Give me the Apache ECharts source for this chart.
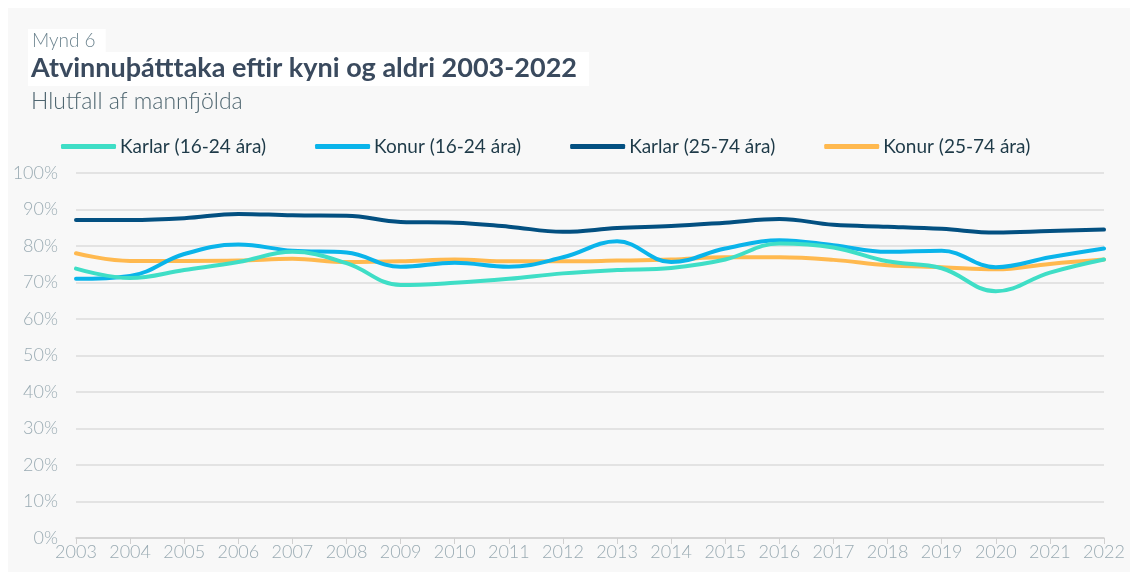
<!DOCTYPE html>
<html><head><meta charset="utf-8">
<script src="https://cdn.jsdelivr.net/npm/echarts@6/dist/echarts.min.js"></script>
<style>html,body{margin:0;padding:0;background:#fff;}#wrap{position:absolute;left:8px;top:8px;width:1122px;height:564px;background:#f8f8f8;}#c{position:absolute;left:0;top:0;width:1140px;height:578px;}</style>
</head><body><div id="wrap"></div><div id="c"></div>
<script>
const years = ['2003','2004','2005','2006','2007','2008','2009','2010','2011','2012','2013','2014','2015','2016','2017','2018','2019','2020','2021','2022'];
const karlar1624 = [73.8,71.2,73.4,75.6,78.4,75.3,69.3,69.9,71.0,72.5,73.4,74.0,76.3,80.7,79.6,75.8,73.9,67.6,72.7,76.3];
const konur1624  = [71.0,71.8,77.8,80.4,78.7,78.2,74.3,75.4,74.3,76.9,81.3,75.6,79.3,81.6,80.2,78.4,78.7,74.2,76.9,79.3];
const karlar2574 = [87.1,87.1,87.6,88.8,88.4,88.3,86.6,86.4,85.3,83.9,84.9,85.5,86.4,87.4,85.8,85.3,84.7,83.7,84.1,84.5];
const konur2574  = [78.0,75.9,75.9,76.0,76.5,75.6,75.8,76.3,75.8,75.8,76.0,76.3,76.9,76.9,76.2,74.7,74.2,73.6,75.1,76.3];
const seriesNames = ['Karlar (16-24 ára)','Konur (16-24 ára)','Karlar (25-74 ára)','Konur (25-74 ára)'];
const colors = ['#3fdec6','#0ab4ea','#035081','#ffb94f'];
const yTicks = [0,10,20,30,40,50,60,70,80,90,100];

const chart = echarts.init(document.getElementById('c'), null, {renderer:'canvas'});
const data = [karlar1624, konur1624, karlar2574, konur2574];
chart.setOption({
  backgroundColor: 'transparent',
  color: colors,
  title: [
    {text:'Mynd 6', left:28, top:29, padding:[2,10,2,4], backgroundColor:'#fff',
     textStyle:{fontFamily:'Lato', fontWeight:300, fontSize:19, color:'#6e8590'}},
    {text:'Atvinnuþátttaka eftir kyni og aldri 2003-2022', left:28, top:52, padding:[3,12,4,3], backgroundColor:'#fff',
     textStyle:{fontFamily:'Lato', fontWeight:'bold', fontSize:27, color:'#3a4a5e'}},
    {text:'Hlutfall af mannfjölda', left:31, top:90, padding:0,
     textStyle:{fontFamily:'Lato', fontWeight:300, fontSize:23, color:'#4f6670'}}
  ],
  legend: {
    top:137, left:61, padding:0, itemGap:49, itemWidth:55, itemHeight:5,
    icon:'roundRect',
    textStyle:{fontFamily:'Lato', fontSize:19, color:'#1e3a48', padding:[0,0,0,-1]},
    data: seriesNames
  },
  grid: {left:76, right:36, top:173, bottom:40, containLabel:false},
  xAxis: {
    type:'category', data:years, boundaryGap:false,
    axisLine:{lineStyle:{color:'#d0d0d0', width:1.5}},
    axisTick:{show:true, length:6, lineStyle:{color:'#d0d0d0'}},
    axisLabel:{fontFamily:'Lato', fontWeight:300, fontSize:18, color:'#9aabb3', margin:5, interval:0, hideOverlap:false}
  },
  yAxis: {
    type:'value', min:0, max:100, interval:10,
    axisLine:{show:false}, axisTick:{show:false},
    splitLine:{lineStyle:{color:'#dddddd', width:1.5}},
    axisLabel:{fontFamily:'Lato', fontWeight:300, fontSize:18, color:'#9aabb3', margin:18,
      formatter: v => yTicks.includes(v) ? v + '%' : ''}
  },
  series: data.map((d,i)=>({
    name: seriesNames[i], type:'line', data:d, smooth:0.4, symbol:'none',
    lineStyle:{width:4, color:colors[i], cap:'round'}, z: 10 - i
  }))
});
</script></body></html>
